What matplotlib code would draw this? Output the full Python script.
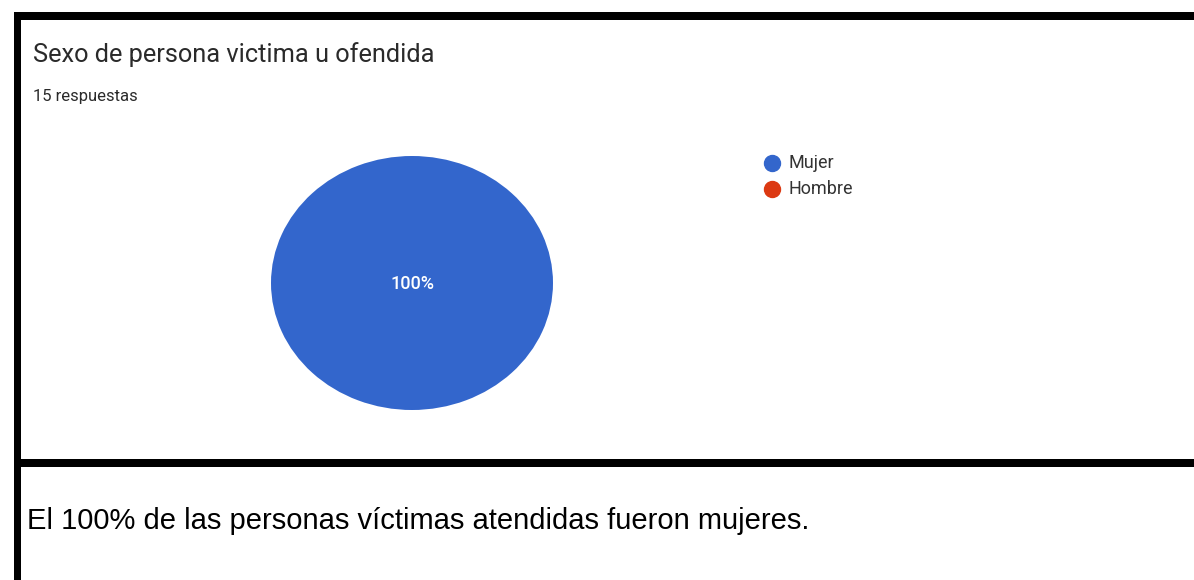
import matplotlib
matplotlib.use("Agg")
import matplotlib.pyplot as plt
from matplotlib.lines import Line2D

W, H = 1194, 580
title = "Sexo de persona victima u ofendida"
subtitle = "15 respuestas"
categories = ["Mujer", "Hombre"]
values = [15, 0]
colors = ["#3366cc", "#dc3912"]
caption = "El 100% de las personas víctimas atendidas fueron mujeres."

fig = plt.figure(figsize=(W / 100, H / 100), dpi=100)
fig.patch.set_facecolor("white")

def fx(x):
    return x / W

def fy(y):
    return 1 - y / H

# borders
fig.add_artist(plt.Rectangle((fx(14), fy(20)), 1 - fx(14), 8 / H, transform=fig.transFigure,
                             color="black", lw=0))
fig.add_artist(plt.Rectangle((fx(14), 0), 7 / W, fy(12), transform=fig.transFigure,
                             color="black", lw=0))
fig.add_artist(plt.Rectangle((fx(14), fy(467)), 1 - fx(14), 8 / H, transform=fig.transFigure,
                             color="black", lw=0))

# title texts
fig.text(fx(33), fy(62), title, fontsize=18.3, family="Roboto", color="#2a2a2a",
         va="baseline", ha="left")
fig.text(fx(33), fy(101), subtitle, fontsize=12, family="Roboto", color="#2a2a2a",
         va="baseline", ha="left")

# pie
ax = fig.add_axes([fx(271), fy(410), (553 - 271) / W, (410 - 156) / H])
total = sum(values)
wedges, _ = ax.pie(values, colors=colors, startangle=90, counterclock=False,
                   wedgeprops=dict(linewidth=0))
ax.set_aspect("auto")
ax.set_xlim(-1, 1)
ax.set_ylim(-1, 1)
ax.axis("off")
ax.text(0, -0.01, f"{values[0] / total * 100:.0f}%", color="white", fontsize=13,
        family="Roboto", fontweight="medium", ha="center", va="center")

# legend (manual placement)
leg_y = [163, 189]
for cat, col, yy in zip(categories, colors, leg_y):
    fig.add_artist(Line2D([fx(772)], [fy(yy)], marker="o", linestyle="none",
                          markersize=11.5, markerfacecolor=col, markeredgecolor=col,
                          transform=fig.transFigure))
    fig.text(fx(788), fy(yy), cat, fontsize=13, family="Roboto", color="#333333",
             va="center", ha="left")

# caption
fig.text(fx(27), fy(529), caption, fontsize=21, family="Liberation Sans",
         color="black", va="baseline", ha="left")

fig.savefig("out.png", dpi=100, facecolor="white")
